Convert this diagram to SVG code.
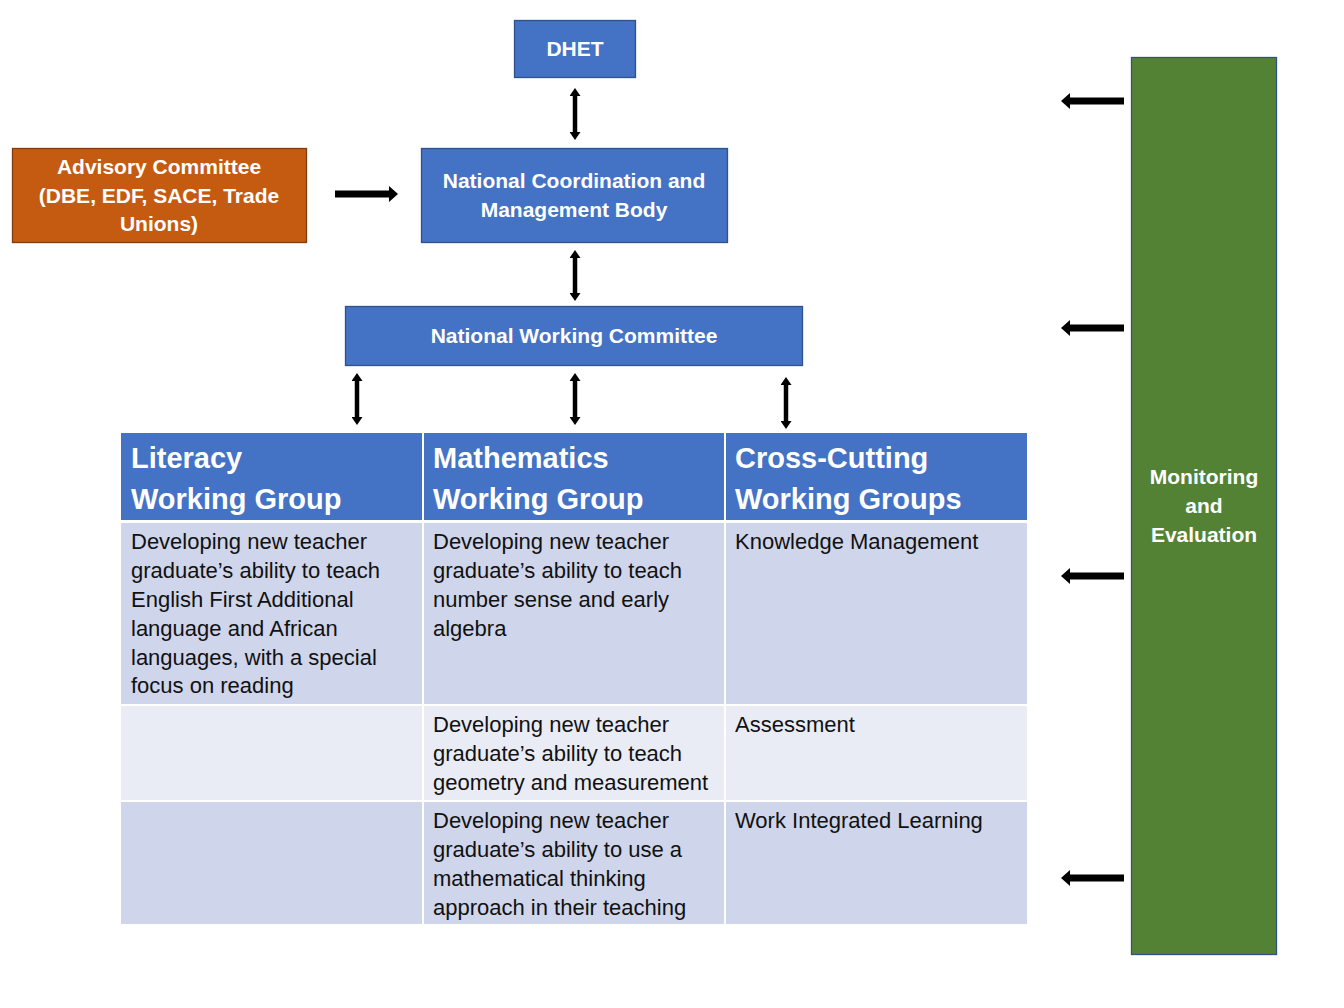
<svg xmlns="http://www.w3.org/2000/svg" width="1344" height="1008" viewBox="0 0 1344 1008">
<defs>
<style>
.box{fill:#4472C4;stroke:#2F528F;stroke-width:1.3}
.nt{font-family:"Liberation Sans",Arial,sans-serif;font-weight:bold;font-size:21px;fill:#fff;text-anchor:middle}
.ht{font-family:"Liberation Sans",Arial,sans-serif;font-weight:bold;font-size:29px;fill:#fff}
.bt{font-family:"Liberation Sans",Arial,sans-serif;font-size:22px;fill:#111}
.hd{fill:#4472C4}
.r1{fill:#CFD5EA}
.r2{fill:#E9EBF5}
.arr{stroke:#000;fill:none}
</style>
<marker id="hs" viewBox="0 0 10 10" preserveAspectRatio="none" refX="0" refY="5" markerWidth="8" markerHeight="11" markerUnits="userSpaceOnUse" orient="auto-start-reverse"><path d="M0,0 L10,5 L0,10 z" fill="#000"/></marker>
<marker id="hl" viewBox="0 0 10 10" preserveAspectRatio="none" refX="0" refY="5" markerWidth="9" markerHeight="16" markerUnits="userSpaceOnUse" orient="auto-start-reverse"><path d="M0,0 L10,5 L0,10 z" fill="#000"/></marker>
</defs>
<rect width="1344" height="1008" fill="#fff"/>

<g id="connectors">
<line class="arr" stroke-width="4.5" x1="575" y1="96" x2="575" y2="132" marker-start="url(#hs)" marker-end="url(#hs)"/>
<line class="arr" stroke-width="4.5" x1="575" y1="258" x2="575" y2="293" marker-start="url(#hs)" marker-end="url(#hs)"/>
<line class="arr" stroke-width="4.5" x1="357" y1="381" x2="357" y2="417" marker-start="url(#hs)" marker-end="url(#hs)"/>
<line class="arr" stroke-width="4.5" x1="575" y1="381" x2="575" y2="417" marker-start="url(#hs)" marker-end="url(#hs)"/>
<line class="arr" stroke-width="4.5" x1="786" y1="385" x2="786" y2="421" marker-start="url(#hs)" marker-end="url(#hs)"/>
<line class="arr" stroke-width="7" x1="335" y1="194" x2="389" y2="194" marker-end="url(#hl)"/>
<line class="arr" stroke-width="7" x1="1124" y1="101" x2="1070" y2="101" marker-end="url(#hl)"/>
<line class="arr" stroke-width="7" x1="1124" y1="328" x2="1070" y2="328" marker-end="url(#hl)"/>
<line class="arr" stroke-width="7" x1="1124" y1="576" x2="1070" y2="576" marker-end="url(#hl)"/>
<line class="arr" stroke-width="7" x1="1124" y1="878" x2="1070" y2="878" marker-end="url(#hl)"/>
</g>

<g id="dhet">
<rect class="box" x="514.5" y="20.5" width="121" height="57"/>
<text class="nt" x="575" y="56">DHET</text>
</g>

<g id="advisory">
<rect x="12.5" y="148.5" width="294" height="94" fill="#C55A11" stroke="#843C0C" stroke-width="1.3"/>
<text class="nt" x="159" y="174">Advisory Committee</text>
<text class="nt" x="159" y="203">(DBE, EDF, SACE, Trade</text>
<text class="nt" x="159" y="231">Unions)</text>
</g>

<g id="ncmb">
<rect class="box" x="421.5" y="148.5" width="306" height="94"/>
<text class="nt" x="574" y="188">National Coordination and</text>
<text class="nt" x="574" y="217">Management Body</text>
</g>

<g id="nwc">
<rect class="box" x="345.5" y="306.5" width="457" height="59"/>
<text class="nt" x="574" y="343">National Working Committee</text>
</g>

<g id="monitoring">
<rect x="1131.5" y="57.5" width="145" height="897" fill="#548235" stroke="#2F528F" stroke-width="1.3"/>
<text class="nt" x="1204" y="484">Monitoring</text>
<text class="nt" x="1204" y="513">and</text>
<text class="nt" x="1204" y="542">Evaluation</text>
</g>

<g id="table">
<rect class="hd" x="121" y="433" width="301" height="87"/>
<rect class="hd" x="424" y="433" width="300" height="87"/>
<rect class="hd" x="726" y="433" width="301" height="87"/>
<rect class="r1" x="121" y="523" width="301" height="181"/>
<rect class="r1" x="424" y="523" width="300" height="181"/>
<rect class="r1" x="726" y="523" width="301" height="181"/>
<rect class="r2" x="121" y="706" width="301" height="94"/>
<rect class="r2" x="424" y="706" width="300" height="94"/>
<rect class="r2" x="726" y="706" width="301" height="94"/>
<rect class="r1" x="121" y="802" width="301" height="122"/>
<rect class="r1" x="424" y="802" width="300" height="122"/>
<rect class="r1" x="726" y="802" width="301" height="122"/>

<text class="ht" x="131" y="468">Literacy</text>
<text class="ht" x="131" y="509">Working Group</text>
<text class="ht" x="433" y="468">Mathematics</text>
<text class="ht" x="433" y="509">Working Group</text>
<text class="ht" x="735" y="468">Cross-Cutting</text>
<text class="ht" x="735" y="509">Working Groups</text>

<text class="bt" x="131" y="549">Developing new teacher</text>
<text class="bt" x="131" y="578">graduate’s ability to teach</text>
<text class="bt" x="131" y="607">English First Additional</text>
<text class="bt" x="131" y="636">language and African</text>
<text class="bt" x="131" y="665">languages, with a special</text>
<text class="bt" x="131" y="693">focus on reading</text>

<text class="bt" x="433" y="549">Developing new teacher</text>
<text class="bt" x="433" y="578">graduate’s ability to teach</text>
<text class="bt" x="433" y="607">number sense and early</text>
<text class="bt" x="433" y="636">algebra</text>

<text class="bt" x="735" y="549">Knowledge Management</text>

<text class="bt" x="433" y="732">Developing new teacher</text>
<text class="bt" x="433" y="761">graduate’s ability to teach</text>
<text class="bt" x="433" y="790">geometry and measurement</text>

<text class="bt" x="735" y="732">Assessment</text>

<text class="bt" x="433" y="828">Developing new teacher</text>
<text class="bt" x="433" y="857">graduate’s ability to use a</text>
<text class="bt" x="433" y="886">mathematical thinking</text>
<text class="bt" x="433" y="915">approach in their teaching</text>

<text class="bt" x="735" y="828">Work Integrated Learning</text>
</g>
</svg>
